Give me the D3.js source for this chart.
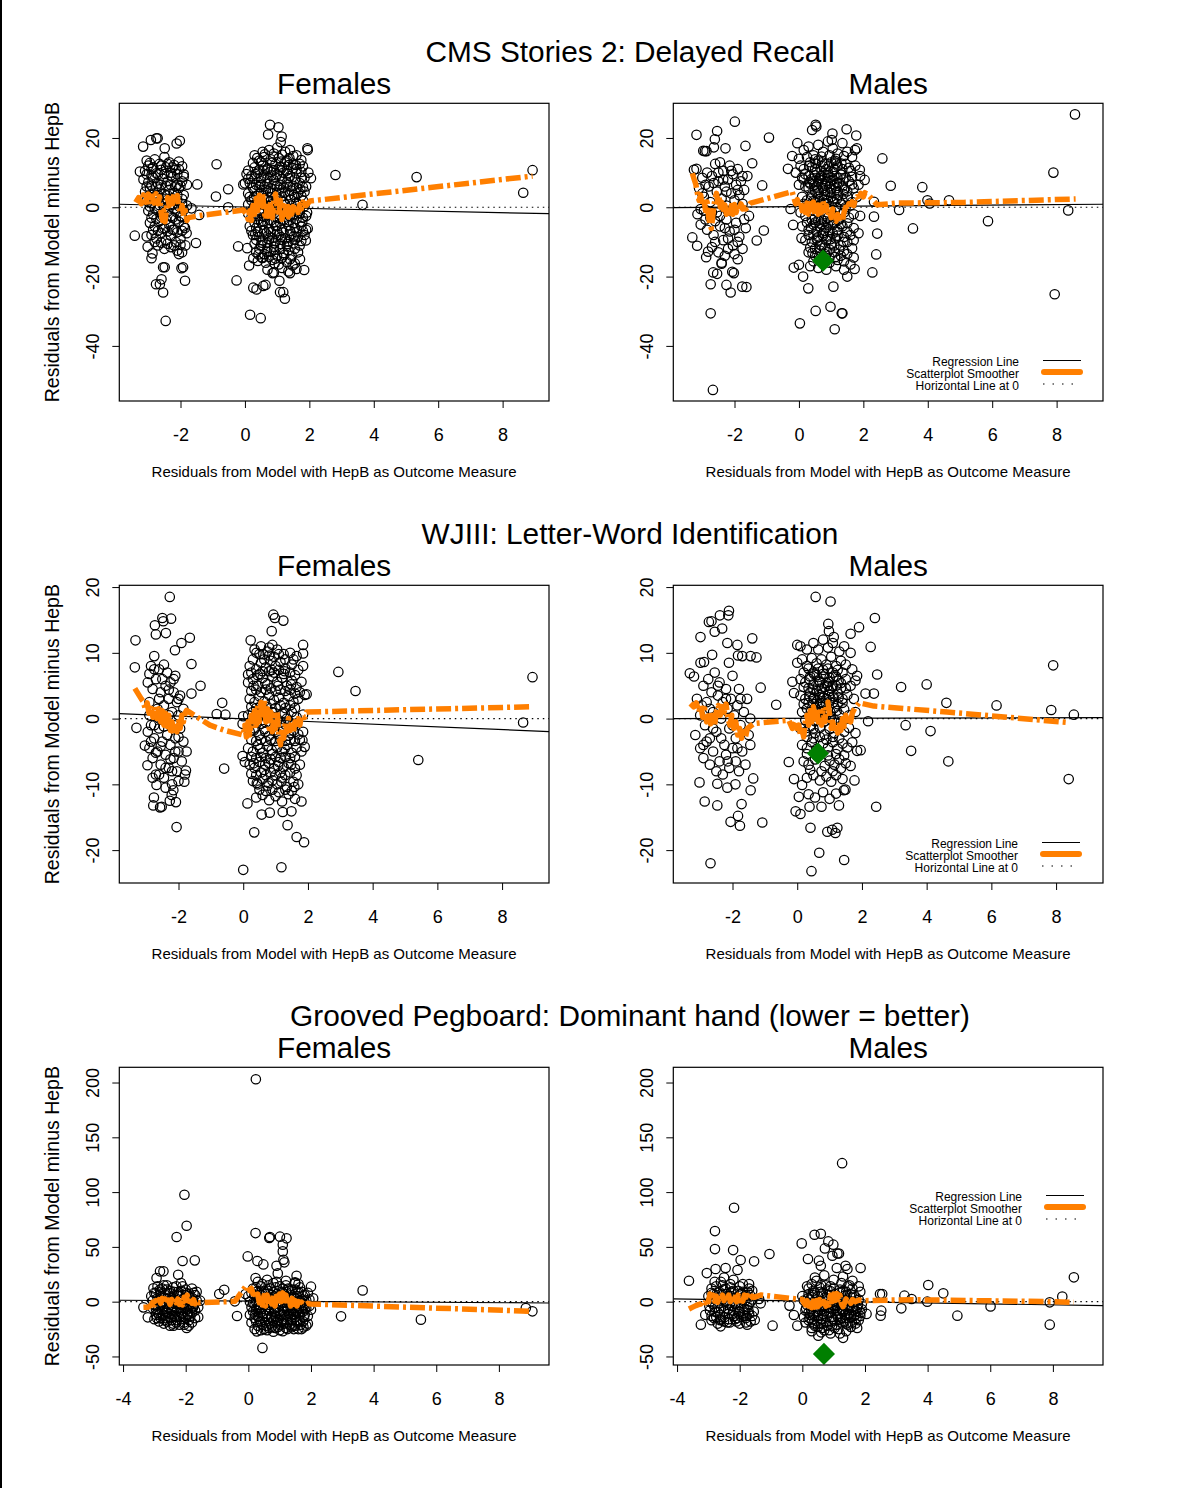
<!DOCTYPE html>
<html>
<head>
<meta charset="utf-8">
<script src="https://cdn.jsdelivr.net/npm/d3@7"></script>
<style>
body { margin: 0; background: #fff; }
svg { display: block; font-family: "Liberation Sans", Arial, sans-serif; }
</style>
</head>
<body>
<svg width="1178" height="1488"></svg>
<script>
// ---- titles / labels ----
var rowTitles = ["CMS Stories 2: Delayed Recall", "WJIII: Letter-Word Identification", "Grooved Pegboard: Dominant hand (lower = better)"];
var colTitles = ["Females", "Males"];
var xLabel = "Residuals from Model with HepB as Outcome Measure";
var yLabel = "Residuals from Model minus HepB";
var legendLabels = ["Regression Line", "Scatterplot Smoother", "Horizontal Line at 0"];

// ---- axis ranges and ticks per row ----
var xDomains = [[-3.9, 9.44], [-3.83, 9.45], [-4.12, 9.6]];
var yDomains = [[-55.9, 30], [-25, 20.27], [-57.8, 213.9]];
var xTicks = [[-2, 0, 2, 4, 6, 8], [-2, 0, 2, 4, 6, 8], [-4, -2, 0, 2, 4, 6, 8]];
var yTicks = [[-40, -20, 0, 20], [-20, -10, 0, 10, 20], [-50, 0, 50, 100, 150, 200]];

// ---- regression lines (intercept, slope), panel order: cmsF, cmsM, wjF, wjM, pegF, pegM ----
var regIntercepts = [0.07, 0.18, -0.03, 0.04, 0.55, 0.67];
var regSlopes = [-0.204, 0.073, -0.206, 0.011, -0.182, -0.445];

// ---- highlighted case (males only) ----
var maleMarkers = [[0.75, -15.4], [0.64, -5.3], [0.69, -47.7]];

// ---- CMS Stories 2 ----
var cmsFemales = [
  [-3.42,-8.2],[-3.26,10.3],[-3.16,17.5],[-2.92,19.4],[-2.75,19.9],[-2.71,19.9],[-2.49,17],[-2.12,18.4],[-2.02,19.2],[-1.48,6.6],
  [-1.52,-10.3],[-3.02,-11.4],[-2.87,-13.3],[-2.9,-14.7],[-2.54,-17.3],[-2.49,-17.3],[-2.76,-22.2],[-2.59,-20.8],[-2.64,-22.2],[-2.54,-24.6],
  [-2.46,-32.8],[-1.97,-17.6],[-1.92,-17.3],[-1.86,-21.2],[-2.05,-13.5],[-1.81,-7.5],[-1.86,-6],[-1.42,-2.2],[-1.66,-0.3],[-3.05,-8.4],
  [-0.88,12.4],[-0.9,3.1],[-0.52,5.2],[-0.52,0],[-0.21,-11.3],[-0.26,-21.1],[0.05,9.6],[0,6.9],[-0.05,6.6],[0.16,-31],[0.49,-32],
  [0.26,-23.2],[0.36,-23.7],[0.57,-22.7],[0.64,-22.4],[0.78,23.8],[1.04,23.1],[0.72,21],[1.14,20.4],[1.11,18.8],[1.94,17],[1.95,16.5],
  [2.05,8.4],[1.97,10],[1.84,-18.1],[1.09,-24.5],[1.19,-24.5],[1.24,-26.4],[1.07,-21.2],[0.86,-19],[1.4,-19],[1.71,-15],[1.95,-6.1],
  [1.93,-1.5],[1.89,-9.6],[2.81,9.3],[3.65,0.7],[5.33,8.7],[8.64,4.2],[8.93,10.7],[0.07,-11.8],[0.13,-16.8],[0.26,-14.7],[0.52,-14.5],
  [-3.05,13.5],[-2.95,12.8],[-2.8,13.8],[-2.65,12.5],[-2.5,14.5],[-2.35,13],[-2.2,12.2],[-2.05,13.2],[-1.95,11.8],
  [-3.1,10.5],[-2.9,11],[-2.75,9.8],[-2.6,10.8],[-2.45,11.5],[-2.3,10],[-2.15,10.8],[-1.9,9.5],[-1.8,6.5],
  [-3.15,8],[-3.0,7.2],[-2.85,8.5],[-2.7,6.8],[-2.55,8.2],[-2.4,7.5],[-2.25,8.8],[-2.1,6.5],[-1.95,7.5],
  [-3.1,4.5],[-2.95,5.5],[-2.8,4],[-2.65,5.2],[-2.5,3.8],[-2.35,5],[-2.2,4.2],[-2.05,5.5],[-1.9,3.5],
  [-3.05,2],[-2.9,1.2],[-2.7,2.5],[-2.55,1],[-2.4,2.2],[-2.25,0.8],[-2.1,2],[-1.95,1],[-1.8,0.5],
  [-3.0,-1],[-2.85,-2],[-2.7,-0.5],[-2.55,-2.5],[-2.4,-1.2],[-2.25,-3],[-2.1,-1.5],[-1.95,-2.8],
  [-2.95,-4.5],[-2.8,-5.5],[-2.65,-4],[-2.5,-6],[-2.35,-5],[-2.2,-6.5],[-2.05,-4.2],[-1.9,-5.5],
  [-2.9,-8],[-2.75,-9],[-2.6,-7.5],[-2.45,-9.5],[-2.3,-8.2],[-2.15,-10],[-2.0,-9],[-1.85,-11],
  [-2.7,-11],[-2.5,-12],[-2.3,-11.5],[-2.1,-12.5],[-1.95,-13],
  [-3.0,12],[-2.85,11.5],[-2.6,12],[-2.4,12.5],[-2.25,11.5],[-2.05,11],
  [-3.05,9.5],[-2.9,9.2],[-2.7,9.5],[-2.5,9.6],[-2.3,9.2],[-2.1,9.5],[-1.9,8.8],
  [-3.05,6],[-2.9,6.2],[-2.75,5.8],[-2.6,6.5],[-2.45,6.2],[-2.3,6.4],[-2.15,6],[-2.0,6.2],
  [-3.0,3.2],[-2.85,2.8],[-2.7,3.5],[-2.55,2.5],[-2.4,3.4],[-2.25,2.6],[-2.1,3.5],[-1.95,2.4],
  [-2.95,0.2],[-2.8,-0.3],[-2.65,0.6],[-2.5,-0.2],[-2.35,0.5],[-2.2,-0.4],[-2.05,0.3],[-1.9,-0.8],
  [-2.9,-3],[-2.75,-3.4],[-2.6,-2.8],[-2.45,-3.6],[-2.3,-2.6],[-2.15,-3.5],[-2.0,-2.6],
  [-2.85,-6.5],[-2.7,-6.8],[-2.55,-6.2],[-2.4,-7],[-2.25,-6.5],[-2.1,-7.2],[-1.95,-6.8],
  [-2.8,-10],[-2.6,-10.2],[-2.4,-10.5],[-2.2,-11],[-2.0,-10.8],
  [0.75,16.5],[1.0,17.2],[1.25,16],[0.9,15.5],
  [0.45,13.5],[0.6,14.5],[0.8,13.8],[1.05,14.2],[1.3,13.5],[1.5,14.8],[1.7,12.5],
  [0.3,11.5],[0.55,12],[0.7,11.2],[0.95,12.5],[1.15,11.5],[1.35,12.2],[1.6,11],[1.8,11.8],
  [0.2,9],[0.4,10],[0.6,9.2],[0.8,10.2],[1.0,9.5],[1.2,10],[1.4,9],[1.6,9.8],[1.85,8.5],
  [0.15,7],[0.35,6.5],[0.5,7.5],[0.7,6.8],[0.9,7.8],[1.1,6.5],[1.3,7.2],[1.5,6.2],[1.7,7],[1.9,6],
  [0.1,4],[0.3,4.8],[0.5,4.2],[0.65,5],[0.85,4],[1.05,5],[1.25,4.3],[1.45,4.8],[1.65,4],[1.85,4.5],
  [0.2,2],[0.4,1.5],[0.6,2.5],[0.8,1.8],[1.0,2.4],[1.2,1.5],[1.4,2.2],[1.6,1.2],[1.8,2],
  [0.25,-0.5],[0.45,-1],[0.7,0],[0.9,-0.8],[1.1,-0.2],[1.3,-1.2],[1.5,-0.4],[1.7,-1],
  [0.2,-3],[0.4,-3.5],[0.6,-2.8],[0.8,-3.8],[1.0,-3],[1.2,-3.6],[1.4,-2.6],[1.6,-3.4],[1.8,-3],
  [0.15,-5.5],[0.35,-6],[0.55,-5],[0.75,-6.2],[0.95,-5.4],[1.15,-6.5],[1.35,-5.2],[1.55,-6],[1.75,-5.5],[1.9,-6.5],
  [0.25,-8],[0.45,-8.5],[0.65,-7.6],[0.85,-8.8],[1.05,-8],[1.25,-9],[1.45,-7.8],[1.65,-8.6],[1.85,-8],
  [0.3,-10.5],[0.5,-11],[0.7,-10.2],[0.9,-11.4],[1.1,-10.6],[1.3,-11.2],[1.5,-10.4],[1.7,-11],
  [0.35,-13],[0.6,-13.5],[0.8,-12.8],[1.0,-14],[1.2,-13.2],[1.45,-14],[1.65,-13],
  [0.4,-15.5],[0.65,-16],[0.85,-15.2],[1.05,-16.5],[1.3,-15.8],[1.55,-16.2],
  [0.7,-18],[0.9,-18.8],[1.15,-17.5],[1.35,-18.5],[1.6,-17.8],
  [0.3,15],[0.55,16],[1.15,15.2],[1.4,16.5],[1.6,15],
  [0.25,12.8],[0.5,13],[0.85,12.9],[1.25,13],[1.5,12.6],[1.75,13.6],
  [0.1,10.6],[0.45,10.8],[0.7,10.9],[0.9,10.7],[1.1,10.8],[1.3,10.6],[1.5,11.3],[1.75,10.2],
  [0.1,8.2],[0.3,8.3],[0.5,8.6],[0.7,8.4],[0.95,8.6],[1.15,8.2],[1.35,8.4],[1.55,8],[1.75,8.6],
  [0.25,5.6],[0.45,5.8],[0.6,6],[0.8,5.5],[1.0,6.2],[1.2,5.7],[1.4,6],[1.6,5.6],[1.8,5.8],
  [0.15,3],[0.35,3.3],[0.55,3.2],[0.75,3],[0.95,3.4],[1.15,3.1],[1.35,3.5],[1.55,2.9],[1.75,3.3],
  [0.1,0.8],[0.3,0.5],[0.5,0.8],[0.65,0.4],[0.85,0.9],[1.05,0.6],[1.25,0.8],[1.45,0.5],[1.65,0.9],[1.85,0.3],
  [0.1,-1.8],[0.3,-2],[0.5,-1.7],[0.7,-2.1],[0.9,-1.8],[1.1,-2.2],[1.3,-1.9],[1.5,-2.1],[1.7,-1.8],[1.9,-2.5],
  [0.3,-4.4],[0.5,-4.2],[0.7,-4.6],[0.9,-4.3],[1.1,-4.7],[1.3,-4.2],[1.5,-4.6],[1.7,-4.3],
  [0.2,-6.8],[0.4,-7.1],[0.6,-6.7],[0.8,-7.2],[1.0,-6.9],[1.2,-7.3],[1.4,-6.8],[1.6,-7.2],[1.8,-6.9],
  [0.35,-9.4],[0.55,-9.6],[0.75,-9.3],[0.95,-9.8],[1.15,-9.4],[1.35,-9.9],[1.55,-9.3],[1.75,-9.7],
  [0.45,-12],[0.7,-11.8],[0.9,-12.3],[1.1,-12],[1.35,-12.4],[1.55,-12],
  [0.55,-14.6],[0.75,-14.3],[0.95,-14.8],[1.15,-14.6],[1.4,-15],
  [0.38,14.2],[0.62,15.3],[0.88,14.6],[1.12,13.2],[1.38,14.2],
  [0.33,9.6],[0.58,10.6],[0.82,9.2],[1.08,11.6],[1.32,9.8],[1.58,12.2],
  [0.28,2.8],[0.48,6.4],[0.72,4.6],[0.92,6.6],[1.12,4.2],[1.32,6.6],[1.52,3.6],[1.72,5.2],
  [0.38,-2.6],[0.58,-4],[0.78,-0.6],[0.98,-5.2],[1.18,-1.2],[1.38,-3.8],[1.58,-1.2],[1.78,-4.2],
  [0.32,-7.8],[0.52,-10.2],[0.72,-8.2],[0.92,-10.4],[1.12,-8.6],[1.32,-10.6],[1.52,-8.4],
  [0.42,-13.6],[0.68,-12.8],[0.92,-16.2],[1.22,-13.8],[1.48,-16.8]
];
var cmsFemalesSmooth = [[-3.39,1.4],[-3.3,2.8],[-3.22,1.0],[-3.15,3.6],[-3.08,1.5],[-3.0,3.8],[-2.94,0.8],[-2.88,3.2],[-2.82,1.2],
  [-2.76,3.9],[-2.7,1.0],[-2.65,3.0],[-2.6,-1.5],[-2.56,-3.8],[-2.52,-1.0],[-2.48,-4.2],[-2.44,-0.5],[-2.4,2.8],[-2.35,0.5],
  [-2.3,3.5],[-2.25,1.0],[-2.2,3.8],[-2.15,1.2],[-2.1,3.4],[-2.05,0.0],[-2.0,-1.5],[-1.95,0.5],[-1.9,-2.5],[-1.85,-1.0],
  [-1.8,-3.8],[-1.75,-3.0],[-1.4,-2.4],[-0.05,-0.8],[0.05,-2.0],[0.1,-3.5],[0.15,-1.0],[0.2,-3.8],[0.25,0.5],[0.3,-2.0],
  [0.35,2.5],[0.4,-1.0],[0.45,3.5],[0.5,0.5],[0.55,3.8],[0.6,-1.5],[0.65,-3.5],[0.7,1.0],[0.75,-2.5],[0.8,1.5],[0.85,-3.0],
  [0.9,2.5],[0.95,3.8],[1.0,0.0],[1.05,-2.5],[1.1,2.0],[1.15,-3.5],[1.2,0.5],[1.25,-2.0],[1.3,1.5],[1.35,-2.8],[1.4,0.8],
  [1.45,-2.0],[1.5,0.2],[1.55,-1.8],[1.6,0.5],[1.65,-1.5],[1.7,0.8],[1.75,-0.5],[1.8,1.5],[1.9,0.5],[2.02,1.8],[8.93,9.0]];

var cmsMales = [
  [-3.18,20.9],[-2.54,22],[-2.61,19.6],[-2.64,17.3],[-2.28,17],[-1.99,24.7],[-1.66,17.7],[-0.93,20.1],[-2.97,16.3],[-2.92,16.2],
  [-2.87,16.2],[-3.26,10.8],[-3.18,11.1],[-1.45,12.7],[-1.14,6.3],[-1.09,-6.7],[-1.31,-9.6],[-3.31,-8.7],[-3.16,-11.1],[-2.74,-30.6],
  [-2.67,-52.7],[-2.74,-22.2],[-2.66,-18.8],[-2.54,-19.2],[-2.25,-22.4],[-2.12,-24.6],[-1.76,-22.9],[-1.63,-23],[-2.07,-18.6],[-2.02,-19],
  [-2.88,-14.4],[-2.82,-12.8],[-2.4,-16.3],[2.59,14.1],[2.85,6.2],[3.83,5.8],[3.99,2.0],[4.06,1.1],[4.66,2.0],[3.11,-0.8],[3.54,-6.1],
  [5.87,-4.0],[7.9,10.0],[8.36,-0.9],[7.94,-25.1],[8.57,26.8],[2.33,-2.7],[2.43,-7.6],[2.4,-13.6],[2.28,-18.8],[2.33,1.6],
  [0.03,-33.5],[0.52,-29.9],[0.98,-28.7],[1.11,-35.2],[1.33,-30.6],[1.35,-30.6],[0.29,-23.4],[0.13,-20],[0,-16.6],[-0.16,-17.4],
  [1.07,-22.9],[1.5,-20],[1.73,-17.8],[1.65,-11.8],[0.52,23.8],[0.54,23.3],[0.41,22.3],[1.04,21.3],[1.02,19.4],[1.48,22.5],[1.78,20.7],
  [-0.05,18.5],[-0.21,14.8],[-0.34,11.1],[1.74,16.5],[2.04,7.9],[1.89,10.8],[-0.26,-0.5],[-0.18,-5.1],[0.08,-8.9],
  [-3.1,5.5],[-3.0,8.5],[-2.95,3],[-2.85,10],[-2.8,6],[-2.75,1.5],[-2.7,9],[-2.6,12.5],[-2.55,4.5],[-2.5,7.5],[-2.45,13],[-2.4,2.5],
  [-2.35,10.5],[-2.3,6],[-2.25,0.5],[-2.2,8],[-2.15,12],[-2.1,4],[-2.05,9.5],[-2.0,2],[-1.95,6.5],[-1.9,11],[-1.85,3.5],[-1.8,7.5],
  [-1.75,1],[-1.7,5],[-1.6,9],
  [-3.15,-2],[-3.05,-5],[-2.95,-1],[-2.85,-6.5],[-2.75,-3],[-2.65,-8],[-2.55,-1.5],[-2.45,-5.5],[-2.35,-9.5],[-2.25,-3.5],[-2.15,-7],
  [-2.05,-11],[-1.95,-4.5],[-1.85,-8.5],[-1.75,-12],[-1.65,-6],[-1.55,-2.5],[-2.7,-11.5],[-2.5,-13],[-2.3,-14],[-2.0,-13.5],[-1.9,-15],
  [-2.4,-16],[-2.2,-12],
  [-3.0,4],[-2.9,6.5],[-2.65,7],[-2.5,10],[-2.35,8],[-2.25,4.5],[-2.1,10.5],[-1.9,5],[-1.75,9],
  [-3.05,-0.5],[-2.9,-3.5],[-2.7,-1.5],[-2.6,-4],[-2.45,-2.5],[-2.3,-6],[-2.2,-1],[-2.0,-6.5],[-1.9,-10],[-1.7,-3.5],[-2.6,-10],[-2.2,-9],
  [0.0,14],[0.15,16.5],[0.3,17.5],[0.45,15],[0.6,18],[0.75,16],[0.9,19],[1.05,17],[1.2,15.5],[1.35,18.5],[1.5,16],[1.65,14.5],[1.8,17],
  [-0.1,10],[0.05,12],[0.2,9.5],[0.35,13],[0.5,11],[0.6,13.5],[0.7,10.5],[0.8,12.5],[0.9,10],[1.0,13],[1.1,11],[1.2,12],[1.3,9.5],
  [1.45,12.5],[1.6,10.5],[1.75,12],[1.9,9],
  [0.0,6.5],[0.15,8],[0.3,5.5],[0.45,7.5],[0.55,6],[0.65,8.5],[0.75,5.5],[0.85,7.5],[0.95,6],[1.05,8],[1.15,5.5],[1.25,7],[1.4,5],
  [1.55,7.5],[1.7,5.5],[1.85,6.5],
  [0.1,3],[0.25,2],[0.4,3.5],[0.5,1.5],[0.6,3],[0.7,1],[0.8,3.5],[0.9,2],[1.0,3],[1.1,1.5],[1.2,3.5],[1.35,2],[1.5,3],[1.65,1.5],[1.8,3],
  [0.05,-1.5],[0.2,-2.5],[0.35,-1],[0.5,-3],[0.6,-1.5],[0.7,-3.5],[0.8,-2],[0.9,-3],[1.0,-1],[1.1,-2.5],[1.25,-3.5],[1.4,-1.5],
  [1.55,-3],[1.7,-2],[1.9,-2.5],
  [0.1,-5.5],[0.3,-6.5],[0.45,-5],[0.55,-7],[0.65,-5.5],[0.75,-7.5],[0.85,-6],[0.95,-7],[1.05,-5],[1.2,-6.5],[1.35,-5.5],[1.5,-7],
  [1.7,-6],[1.85,-7.5],
  [0.2,-9.5],[0.4,-10],[0.55,-9],[0.7,-11],[0.85,-9.5],[1.0,-10.5],[1.15,-9],[1.3,-11],[1.5,-10],[1.7,-9.5],
  [0.3,-13],[0.5,-14],[0.65,-12.5],[0.8,-13.5],[0.95,-14.5],[1.1,-13],[1.3,-14],[1.5,-13.5],[1.7,-14.5],
  [0.35,-17],[0.6,-17.5],[0.85,-18],[1.15,-17],[1.4,-18],[1.6,-16.5],
  [0.25,14.5],[0.5,13.8],[0.7,14.6],[0.95,15],[1.15,14],[1.4,14.8],
  [0.15,11],[0.4,11.6],[0.55,10.2],[0.75,11.8],[0.85,11],[1.05,10.2],[1.15,12.6],[1.35,11],[1.55,11.4],
  [0.1,8.6],[0.3,9],[0.4,8.2],[0.5,9.2],[0.6,7.2],[0.7,9],[0.8,8.2],[0.9,9.2],[1.0,7.5],[1.1,9],[1.2,8.4],[1.3,9.4],[1.45,8.6],[1.65,8.8],
  [0.2,6],[0.35,6.8],[0.5,4.6],[0.6,5],[0.7,6.8],[0.8,4.8],[0.9,4.4],[1.0,5.2],[1.1,6.6],[1.2,4.6],[1.35,6],[1.5,4.6],[1.65,6.6],
  [0.15,1],[0.3,0.4],[0.45,1.8],[0.55,0],[0.65,1.8],[0.75,0],[0.85,1.2],[0.95,0.2],[1.05,1.8],[1.15,0],[1.3,0.8],[1.45,0],[1.6,0.6],
  [0.25,-4.4],[0.4,-3.6],[0.5,-4.4],[0.6,-3.8],[0.7,-5],[0.8,-4],[0.9,-5],[1.0,-3.8],[1.1,-4.4],[1.2,-3.6],[1.3,-4.8],[1.5,-4.6],
  [0.3,-8],[0.45,-7.8],[0.6,-8.6],[0.75,-8.2],[0.9,-8.4],[1.05,-7.6],[1.2,-8.2],[1.4,-8.6],[1.6,-8],
  [0.35,-11.6],[0.5,-12],[0.65,-10.8],[0.8,-11.6],[0.95,-12.2],[1.1,-11],[1.25,-12.2],[1.4,-12.6],
  [0.45,-15.6],[0.7,-15],[0.95,-16],[1.2,-15.2],[1.4,-15.6],
  [0.32,12],[0.52,12.6],[0.72,13],[0.92,11.8],[1.12,13.4],[1.32,12.6],
  [0.32,7.2],[0.48,6.4],[0.62,8],[0.82,6.2],[0.98,8.6],[1.18,7],[1.38,8],
  [0.38,2.6],[0.58,4],[0.78,2.2],[0.98,4.2],[1.18,2.4],[1.38,3.8],
  [0.38,-6],[0.58,-9.6],[0.78,-6.8],[0.98,-9.2],[1.18,-7],[1.38,-10],
  [0.42,-13.2],[0.62,-14.4],[0.88,-13],[1.12,-14.4]
];
var cmsMalesSmooth = [[-3.31,9.8],[-3.25,8.0],[-3.2,6.6],[-3.15,4.0],[-3.1,2.0],[-3.05,3.5],[-3.0,0.5],[-2.95,2.5],[-2.9,-1.0],
  [-2.85,1.5],[-2.8,-3.0],[-2.76,-5.0],[-2.72,-6.1],[-2.68,-3.0],[-2.64,0.5],[-2.6,2.5],[-2.56,4.0],[-2.52,1.5],[-2.48,3.0],
  [-2.44,0.0],[-2.4,1.5],[-2.35,-1.5],[-2.3,0.7],[-2.25,-2.0],[-2.2,-0.5],[-2.15,-3.0],[-2.1,0.5],[-2.05,-2.0],[-2.0,0.8],
  [-1.95,-1.5],[-1.9,0.5],[-1.85,-1.0],[-1.8,1.0],[-1.75,-0.5],[-1.7,0.8],[-1.65,-0.5],[-1.5,1.2],[-0.21,4.5],[-0.15,2.5],
  [-0.1,1.0],[-0.05,2.2],[0.0,0.0],[0.05,1.8],[0.1,-1.0],[0.15,1.5],[0.2,-1.5],[0.25,1.2],[0.3,-2.0],[0.35,1.0],[0.4,-2.0],
  [0.45,1.5],[0.5,-2.5],[0.55,0.5],[0.6,-2.0],[0.65,1.5],[0.7,-1.5],[0.75,1.8],[0.8,-1.0],[0.85,0.5],[0.9,-2.5],[0.95,-1.0],
  [1.0,-3.0],[1.05,-0.5],[1.1,-3.5],[1.15,-4.0],[1.2,-2.0],[1.25,-4.2],[1.3,-3.0],[1.35,-4.0],[1.4,-1.5],[1.45,0.0],[1.5,-0.8],
  [1.55,1.0],[1.6,0.0],[1.65,1.6],[1.7,0.5],[1.75,2.5],[1.8,3.0],[1.85,2.0],[1.92,4.0],[2.0,3.0],[2.05,4.2],[2.15,3.6],
  [2.43,0.7],[3.05,1.2],[5.12,1.4],[8.59,2.4]];

// ---- WJIII Letter-Word ----
var wjFemales = [
  [-2.27,18.5],[-3.33,11.9],[-3.35,7.8],[-3.3,-1.4],[-2.73,14.2],[-2.5,15.3],[-2.23,15.2],[-2.47,14.8],[-2.7,12.8],[-2.39,13.0],
  [-1.91,11.5],[-1.65,12.3],[-1.6,8.3],[-2.11,10.4],[-1.32,5.0],[-1.6,3.8],[-1.77,-7.9],[-1.82,-9.6],[-2.06,-16.5],[-2.78,-13.2],
  [-2.57,-13.5],[-2.52,-13.4],[-2.76,-12],[-2.68,-10.1],[-2.21,-11.6],[-2.16,-10.9],[-2.08,-12.7],[-2.27,-12.5],[-2.96,-7.1],[-3.04,-4.1],
  [-0.65,2.4],[-0.82,0.7],[-0.55,0.6],[-0.59,-7.6],[0.23,11.9],[0.88,13.3],[0.93,15.8],[0.98,15.3],[1.24,14.9],[1.85,11.2],[1.85,9.9],
  [1.96,3.7],[1.9,3.6],[0.13,-12.9],[0.34,-17.3],[0,-23],[0.57,-14.6],[0.82,-14.3],[1.18,-22.6],[1.37,-16.2],[1.65,-18],[1.88,-18.8],
  [1.49,-14.1],[1.8,-12.6],[1.22,-14.2],[2.94,7.1],[3.47,4.2],[5.41,-6.3],[8.65,-0.6],[8.94,6.3],[0,0.35],[-0.02,-0.8],[-0.02,-5.7],
  [0.05,-6.6],[1.85,-2],[1.9,-4.3],[1.83,-3.3],[0.15,6.7],[0.41,10],[0.62,9.8],[0.8,10.8],
  [-2.95,5.5],[-2.9,2.5],[-2.85,8],[-2.8,4.5],[-2.75,9.5],[-2.7,6],[-2.65,1.5],[-2.6,7.5],[-2.55,4],[-2.5,6],[-2.45,2],[-2.4,5],
  [-2.35,7],[-2.3,3],[-2.25,5.5],[-2.2,1],[-2.15,4],[-2.1,6.5],[-2.05,2.5],[-2.0,0.5],[-1.95,3.5],[-1.85,1.5],
  [-2.95,-2],[-2.9,-4.5],[-2.85,-1],[-2.8,-6],[-2.75,-3],[-2.7,-8.5],[-2.65,-5],[-2.6,-1.5],[-2.55,-7],[-2.5,-3.5],[-2.45,-9],
  [-2.4,-5.5],[-2.35,-2.5],[-2.3,-7.5],[-2.25,-4],[-2.2,-10],[-2.15,-6],[-2.1,-3],[-2.05,-8],[-2.0,-5],[-1.95,-1.5],[-1.9,-6.5],
  [-1.85,-3.5],[-1.8,-8.5],[-1.75,-5],
  [-2.9,6.8],[-2.75,7.5],[-2.6,3],[-2.45,8.2],[-2.3,4.4],[-2.15,6],[-2.0,3],
  [-2.9,0.5],[-2.75,-1],[-2.6,0],[-2.45,-1.2],[-2.3,0.5],[-2.15,-1],[-2.0,-2.8],
  [-2.85,-3.5],[-2.7,-5.2],[-2.55,-4.2],[-2.4,-7.5],[-2.25,-6.2],[-2.1,-5],
  [-2.8,-9],[-2.6,-8.5],[-2.4,-10.5],[-2.2,-8],[-2.0,-9.5],
  [0.35,10.5],[0.55,11],[0.75,10.2],[0.9,11.2],[1.05,10.5],[1.25,9.8],[1.45,10],[1.65,9.5],
  [0.2,8],[0.4,7.5],[0.55,8.5],[0.7,7.8],[0.85,8.8],[1.0,8],[1.15,8.6],[1.3,7.6],[1.5,8.2],[1.7,7.4],[1.85,8],
  [0.15,5.5],[0.3,6],[0.45,5],[0.6,6.2],[0.75,5.2],[0.9,6.4],[1.05,5.6],[1.2,6.2],[1.35,5],[1.5,5.8],[1.65,4.8],[1.8,5.6],
  [0.2,3],[0.35,2.5],[0.5,3.4],[0.65,2.6],[0.8,3.6],[0.95,2.8],[1.1,3.2],[1.25,2.4],[1.4,3.4],[1.55,2.6],[1.7,3],
  [0.15,0.5],[0.3,1],[0.45,0],[0.6,1.2],[0.75,0.2],[0.9,1],[1.05,-0.2],[1.2,0.8],[1.35,0],[1.5,1],[1.65,0.2],[1.85,0.6],
  [0.2,-2],[0.35,-1.5],[0.5,-2.5],[0.65,-1.6],[0.8,-2.6],[0.95,-1.8],[1.1,-2.4],[1.25,-1.4],[1.4,-2.6],[1.55,-1.8],[1.7,-2.4],
  [0.15,-4.5],[0.3,-5],[0.45,-4],[0.6,-5.2],[0.75,-4.2],[0.9,-5.4],[1.05,-4.4],[1.2,-5],[1.35,-4],[1.5,-5.2],[1.65,-4.4],[1.8,-5],
  [0.2,-7],[0.35,-7.5],[0.5,-6.6],[0.65,-7.8],[0.8,-6.8],[0.95,-7.6],[1.1,-6.6],[1.25,-7.4],[1.4,-6.8],[1.6,-7.6],[1.75,-7],
  [0.3,-9.5],[0.45,-10],[0.6,-9.2],[0.75,-10.2],[0.9,-9.4],[1.05,-10],[1.2,-9],[1.35,-10.4],[1.55,-9.6],[1.7,-10],
  [0.4,-12],[0.6,-11.6],[0.8,-12.4],[1.0,-11.8],[1.2,-12.6],[1.4,-11.5],[1.6,-12.2],
  [0.3,9],[0.5,9.8],[0.65,9],[0.8,9.6],[0.95,9.4],[1.1,9.8],[1.3,9],[1.55,9],
  [0.25,7],[0.45,6.6],[0.6,7.2],[0.8,7.2],[0.95,7],[1.1,7.4],[1.25,6.8],[1.45,7],[1.6,6.6],
  [0.25,4.2],[0.4,4.4],[0.55,4],[0.7,4.4],[0.85,4.6],[1.0,4.2],[1.15,4.4],[1.3,4.2],[1.45,4.4],[1.6,3.8],[1.75,4],
  [0.25,1.8],[0.4,1.6],[0.55,2],[0.7,1.8],[0.85,2.2],[1.0,1.6],[1.15,2],[1.3,1.6],[1.45,2],[1.6,1.6],
  [0.25,-0.8],[0.4,-0.6],[0.55,-0.8],[0.7,-0.6],[0.85,-0.9],[1.0,-0.8],[1.15,-0.6],[1.3,-0.9],[1.45,-0.6],[1.6,-0.8],
  [0.25,-3.2],[0.4,-3.4],[0.55,-3.2],[0.7,-3.4],[0.85,-3.2],[1.0,-3.4],[1.15,-3.2],[1.3,-3.4],[1.45,-3.2],[1.6,-3.4],[1.75,-3.2],
  [0.25,-5.8],[0.4,-6],[0.55,-5.8],[0.7,-6],[0.85,-6.2],[1.0,-5.8],[1.15,-6],[1.3,-5.8],[1.45,-6],[1.6,-5.8],
  [0.25,-8.4],[0.4,-8.6],[0.55,-8.2],[0.7,-8.6],[0.85,-8.2],[1.0,-8.6],[1.15,-8.2],[1.3,-8.6],[1.45,-8.2],[1.65,-8.6],
  [0.5,-10.8],[0.7,-11],[0.9,-10.8],[1.1,-11.2],[1.3,-10.8],[1.5,-11],
  [0.32,5],[0.52,6.8],[0.68,5.4],[0.88,7.4],[1.08,5],[1.28,7.2],[1.48,5.2],
  [0.32,-1.8],[0.52,0.8],[0.68,-2],[0.88,1],[1.08,-2.4],[1.28,0.8],[1.48,-2.2],
  [0.32,-6.8],[0.52,-4.6],[0.68,-7],[0.88,-4.8],[1.08,-7.2],[1.28,-4.6],[1.48,-7],
  [0.42,-9.8],[0.78,-9.8],[1.18,-9.6],[1.58,-10.4]
];
var wjFemalesSmooth = [[-3.35,4.6],[-3.25,3.8],[-3.15,3.0],[-3.09,2.6],[-3.03,1.5],[-2.97,2.4],[-2.91,0.8],[-2.85,2.0],[-2.79,0.2],
  [-2.73,1.8],[-2.67,0.0],[-2.61,1.5],[-2.55,-0.5],[-2.5,1.2],[-2.45,-1.0],[-2.4,0.8],[-2.35,-1.2],[-2.3,0.5],[-2.25,-1.8],
  [-2.2,-0.5],[-2.15,-2.3],[-2.1,-1.2],[-2.05,-2.0],[-2.0,-0.5],[-1.95,-1.5],[-1.9,0.5],[-1.85,-0.5],[-1.8,0.8],[-1.75,1.25],
  [-1.03,-1.0],[-0.57,-1.8],[0,-2.5],[0.05,-1.0],[0.1,-2.8],[0.15,-0.5],[0.2,-2.5],[0.25,0.5],[0.3,-1.5],[0.35,1.2],[0.4,-1.0],
  [0.45,2.0],[0.5,-0.5],[0.55,2.5],[0.6,0.0],[0.65,3.0],[0.7,-0.5],[0.75,1.5],[0.8,-1.5],[0.85,1.0],[0.9,-2.0],[0.95,0.5],
  [1.0,-1.5],[1.05,1.0],[1.1,-2.5],[1.15,-4.0],[1.2,-1.5],[1.25,-3.0],[1.3,-0.5],[1.35,-2.0],[1.4,0.0],[1.45,-1.8],[1.5,-0.5],
  [1.55,-2.0],[1.6,-0.5],[1.65,-1.5],[1.7,0.0],[1.75,-1.0],[1.8,0.5],[1.9,0.2],[1.96,1.0],[8.94,1.8]];

var wjMales = [
  [0.57,18.5],[1.03,17.8],[2.4,15.3],[1.91,13.9],[2.27,10.9],[2.47,6.7],[1.65,12.9],[0.96,14.4],[0.98,13.3],[1.13,12.4],[0,11.2],
  [-2.11,16.4],[-2.13,15.7],[-2.39,15.7],[-2.73,14.7],[-2.65,14.8],[-2.32,13.7],[-2.55,13.2],[-2.99,12.4],[-2.16,11.5],[-1.85,11.2],
  [-1.39,12.2],[-2.63,9.7],[-2.88,8.6],[-2.99,8.5],[-2.11,8.5],[-1.83,9.6],[-1.7,9.5],[-1.44,9.5],[-1.26,9.3],[-3.32,6.9],[-3.19,6.4],
  [-1.13,4.7],[3.21,4.8],[4.0,5.2],[4.61,2.4],[6.16,2.0],[7.91,8.1],[7.85,1.3],[8.55,0.6],[3.35,-1.0],[4.12,-1.9],[3.52,-4.9],
  [4.67,-6.5],[8.39,-9.2],[2.19,-0.4],[1.96,-4.8],[1.85,-4.9],[2.44,-13.4],[-2.68,-22],[0.44,-23.2],[0.68,-20.4],[1.45,-21.5],
  [0.41,-16.6],[0.93,-17.2],[1.08,-16.9],[1.18,-17.4],[1.24,-16.6],[0.38,-13.4],[0.75,-13.4],[1.29,-13.2],[-0.05,-14.1],[0.1,-14.5],
  [-1.08,-15.8],[-2.06,-15.7],[-1.77,-16.3],[-1.83,-14.8],[-2.86,-12.6],[-2.47,-13.2],[-1.72,-13],[-1.44,-10.9],[-3.02,-9.7],
  [-2.47,-9.9],[-2.16,-10.5],[-1.91,-10],[-1.36,-9.1],[-0.26,-6.6],[1.77,-9.4],[1.44,-10.9],[1.49,-10.8],[-0.1,-9.2],[0.05,-11.9],
  [0.15,-10.1],[-0.65,2.1],[2.11,3.8],[2.37,3.8],[-0.15,5.6],[-0.1,3.9],
  [-3.1,3],[-3.0,0.5],[-2.9,5],[-2.85,-1],[-2.8,2.5],[-2.75,6],[-2.7,-3],[-2.65,4],[-2.6,1],[-2.55,7],[-2.5,-2],[-2.45,3.5],
  [-2.4,5.5],[-2.35,0],[-2.3,2.5],[-2.25,-4],[-2.2,4.5],[-2.15,1.5],[-2.1,-1.5],[-2.05,3],[-2.0,6.5],[-1.95,0.5],[-1.9,-3],
  [-1.85,2],[-1.8,4.5],[-1.75,-1],[-1.65,1],[-1.55,3],[-1.5,-2.5],[-1.45,0],
  [-3.15,-2.5],[-3.0,-4.5],[-2.9,-6],[-2.8,-3.5],[-2.7,-7],[-2.6,-5],[-2.5,-8],[-2.4,-6.5],[-2.3,-8.5],[-2.2,-5.5],[-2.1,-7.5],
  [-2.0,-4.5],[-1.9,-6.5],[-1.8,-8],[-1.7,-5],[-1.6,-7],[-1.45,-4],
  [-2.95,2],[-2.7,1.5],[-2.45,5],[-2.2,3],[-2.0,-1],[-1.75,3],[-2.6,-1.5],[-2.35,-3],[-2.9,-4],[-2.15,-6.5],[-1.85,-4.5],
  [0.1,11],[0.3,10.5],[0.5,11.5],[0.65,10.5],[0.8,12],[0.95,10.8],[1.1,11.5],[1.3,10.2],[1.45,11],[1.65,10],
  [0.0,8.5],[0.15,9],[0.3,8],[0.45,9.2],[0.6,8.4],[0.75,9],[0.9,8.2],[1.05,9.4],[1.2,8],[1.35,8.8],[1.5,8.2],[1.7,7.5],[1.85,6.5],
  [0.1,6],[0.25,5.5],[0.4,6.4],[0.5,5.2],[0.6,6.6],[0.7,5.6],[0.8,6.8],[0.9,5.4],[1.0,6.2],[1.1,5],[1.2,6.4],[1.35,5.4],[1.5,6],
  [1.65,5],[1.8,5.8],
  [0.1,3.5],[0.25,3],[0.4,4],[0.5,3],[0.6,4.2],[0.7,3.2],[0.8,4],[0.9,3],[1.0,4.2],[1.1,3.2],[1.25,3.8],[1.4,3],[1.55,3.6],[1.75,3],
  [0.15,1],[0.3,1.5],[0.45,0.6],[0.55,1.6],[0.65,0.8],[0.75,1.8],[0.85,0.6],[0.95,1.4],[1.05,0.4],[1.15,1.6],[1.3,0.6],[1.45,1.4],
  [1.6,0.5],[1.8,1],
  [0.1,-1.5],[0.25,-2],[0.4,-1.2],[0.55,-2.2],[0.7,-1.4],[0.85,-2.4],[1.0,-1.6],[1.15,-2.2],[1.3,-1.2],[1.45,-2],[1.6,-1.4],[1.8,-2.2],
  [0.15,-4],[0.3,-4.5],[0.45,-3.6],[0.6,-4.6],[0.8,-3.8],[0.95,-4.4],[1.1,-3.6],[1.25,-4.6],[1.4,-3.8],[1.55,-4.4],[1.7,-3.6],
  [0.2,-6.5],[0.35,-7],[0.55,-6.2],[0.85,-7.2],[1.0,-6.4],[1.15,-7],[1.3,-6.2],[1.5,-6.8],[1.65,-7.2],
  [0.3,-9],[0.5,-8.6],[0.7,-9.4],[0.9,-8.8],[1.05,-9.6],[1.2,-8.6],[1.4,-9.2],
  [0.35,-11.5],[0.55,-12],[0.8,-11.2],[1.0,-12.2],[1.2,-11.4],
  [0.2,7],[0.35,7.6],[0.5,7],[0.65,7.6],[0.8,7.4],[0.95,7.6],[1.1,7],[1.25,7.4],[1.4,7],
  [0.2,4.8],[0.35,4.6],[0.5,4.4],[0.65,5],[0.75,4.6],[0.85,4.8],[0.95,5],[1.05,4.6],[1.2,5],[1.35,4.6],[1.5,4.6],
  [0.2,2.2],[0.35,2.4],[0.5,2.2],[0.6,2.6],[0.7,2.4],[0.8,2.4],[0.9,2.2],[1.0,2.6],[1.1,2.4],[1.25,2.2],[1.4,2.4],
  [0.25,-0.2],[0.4,0],[0.55,-0.4],[0.7,0],[0.85,-0.4],[1.0,0],[1.15,-0.2],[1.35,-0.4],
  [0.3,-2.8],[0.5,-3],[0.7,-2.8],[0.9,-3.2],[1.1,-2.8],[1.3,-3],
  [0.3,-5.4],[0.6,-5.6],[0.95,-5.6],[1.2,-5.4],[1.45,-5.6],
  [0.4,-7.8],[0.75,-8],[1.1,-8],[1.35,-7.6],
  [0.38,6],[0.52,6.8],[0.68,5.8],[0.82,6.4],[0.98,5.6],[1.12,6.4],[1.28,5.8],
  [0.38,3.4],[0.52,3.2],[0.68,3.6],[0.82,3.2],[0.98,3.6],[1.12,3.4],[1.28,3.2],
  [0.42,1],[0.62,1],[0.82,1.2],[1.02,1],[1.22,1.2],[0.5,-1.5]
];
var wjMalesSmooth = [[-3.3,2.3],[-3.2,1.8],[-3.12,2.4],[-3.04,1.0],[-2.98,2.0],[-2.92,0.2],[-2.86,1.5],[-2.8,-0.5],[-2.74,1.0],
  [-2.68,-0.8],[-2.62,0.5],[-2.56,-1.2],[-2.5,1.0],[-2.44,2.0],[-2.38,0.5],[-2.32,2.5],[-2.26,1.0],[-2.2,2.2],[-2.14,0.0],
  [-2.08,-1.0],[-2.02,0.5],[-1.96,-1.5],[-1.9,-0.5],[-1.84,-2.5],[-1.78,-1.5],[-1.72,-3.0],[-1.66,-2.0],[-1.6,-2.8],[-1.54,-1.5],
  [-1.34,-0.75],[-0.26,-0.25],[-0.15,-1.5],[-0.05,-0.5],[0.0,-2.0],[0.05,-1.0],[0.1,-2.5],[0.15,-1.5],[0.2,-2.8],[0.25,-0.5],
  [0.3,0.5],[0.35,-1.0],[0.4,1.2],[0.45,-0.5],[0.5,1.8],[0.55,0.0],[0.6,1.5],[0.65,-0.5],[0.7,1.0],[0.75,-1.0],[0.8,1.2],
  [0.85,-0.5],[0.9,1.8],[0.95,2.5],[1.0,0.5],[1.05,-1.5],[1.1,-0.5],[1.15,-2.0],[1.2,-1.0],[1.25,-2.2],[1.3,-0.5],[1.35,-1.8],
  [1.4,0.0],[1.45,-1.2],[1.5,0.5],[1.55,-0.8],[1.6,0.2],[1.65,-0.5],[1.7,0.8],[1.78,1.6],[1.85,2.0],[1.91,2.4],[2.37,1.9],
  [4.63,1.0],[8.39,-0.6]];

// ---- Grooved Pegboard ----
var pegFemales = [
  [0.24,203],[-2.04,97.6],[-1.97,69.3],[-2.29,59],[-2.1,37.1],[-1.71,37.7],[-2.24,24.6],[-2.15,17],[-2.93,21.6],[-2.82,27.7],
  [-2.71,27.7],[-3.03,12.2],[-3.35,-5.2],[-3.21,-14.3],[-1.97,-24],[-2.39,-21.9],[-1.54,0.9],[-1.76,-5.2],[-0.93,7],[-0.77,10.9],
  [-0.43,0.3],[-0.36,-13.1],[-0.02,41.3],[0.23,62.6],[0.29,37.1],[0.48,34],[0.67,58.1],[0.69,59],[1.01,59.3],[1.22,57.8],[1.1,52],
  [1.1,45.9],[1.12,38.3],[1.15,35.9],[0.9,32.8],[0.23,21.6],[-0.09,7],[0.27,-27.1],[0.45,-42.2],[0.8,-27.4],[1.38,-23.4],[1.76,-23.4],
  [2.0,13.7],[2.07,3],[2.0,-7.3],[2.96,-13.4],[3.65,10.3],[5.51,-16.4],[8.86,-5.8],[9.07,-8.8],[1.54,23.7],[0.94,25.8],[1.49,17.6],
  [-3.1,5],[-3.0,-3],[-2.95,8],[-2.9,-10],[-2.85,2],[-2.8,-15],[-2.75,12],[-2.7,-5],[-2.65,6],[-2.6,-18],[-2.55,0],[-2.5,10],
  [-2.45,-8],[-2.4,4],[-2.35,-13],[-2.3,14],[-2.25,-2],[-2.2,8],[-2.15,-16],[-2.1,2],[-2.05,-6],[-2.0,11],[-1.95,-11],[-1.9,5],
  [-1.85,-3],[-1.8,-19],[-1.75,8],[-1.7,-8],[-1.65,1],[-1.6,-14],
  [-3.05,1],[-2.95,-7],[-2.85,-12],[-2.75,-1],[-2.65,-9],[-2.55,-14],[-2.45,3],[-2.35,-5],[-2.25,9],[-2.15,-10],[-2.05,-19],
  [-1.95,3],[-1.85,-13],[-1.75,-4],[-2.6,15],[-2.4,-20],[-2.2,-21],[-2.9,14],[-2.7,-20],[-2.0,-15],[-1.7,6],
  [-3.05,-6],[-3.0,8],[-2.95,-12],[-2.9,3],[-2.85,-18],[-2.8,9],[-2.75,-8],[-2.7,0],[-2.65,-15],[-2.6,11],[-2.55,-5],[-2.5,4],
  [-2.45,-17],[-2.4,13],[-2.35,-2],[-2.3,-9],[-2.25,5],[-2.2,-14],[-2.15,10],[-2.1,-3],[-2.05,-21],[-2.0,6],[-1.95,-7],[-1.9,-17],
  [-1.85,2],[-1.8,-10],[-1.75,0],[-1.7,-15],[-1.65,9],[-1.6,-5],
  [-3.0,-16],[-2.8,-3],[-2.6,-10],[-2.4,-4],[-2.2,0],[-2.0,-1],[-1.8,12],[-2.5,-22],[-2.3,-19],[-2.7,15],[-2.1,14],[-1.9,-22],
  [-2.97,-3],[-2.88,-7],[-2.78,5],[-2.72,-12],[-2.63,-2],[-2.57,8],[-2.52,-11],[-2.43,-6],[-2.37,2],[-2.32,-14],[-2.27,-7],
  [-2.18,5],[-2.12,-11],[-2.07,-2],[-1.98,-5],[-1.93,-12],[-1.88,7],[-1.82,-6],[-1.78,3],[-1.72,-2],
  [-2.92,-15],[-2.68,-17],[-2.48,-15],[-2.28,-17],[-2.08,-14],[-2.82,11],[-2.58,-7],[-2.38,9],[-2.18,-5],[-1.98,8],
  [0.0,5],[0.1,-5],[0.15,12],[0.2,-15],[0.25,0],[0.3,-22],[0.35,8],[0.4,-10],[0.45,16],[0.5,-3],[0.55,-19],[0.6,4],[0.65,-8],
  [0.7,12],[0.75,-14],[0.8,1],[0.85,-24],[0.9,7],[0.95,-5],[1.0,14],[1.05,-12],[1.1,-1],[1.15,-20],[1.2,9],[1.25,-7],[1.3,3],
  [1.35,-16],[1.4,11],[1.45,-3],[1.5,-22],[1.55,5],[1.6,-10],[1.65,13],[1.7,-1],[1.75,-18],[1.8,6],[1.85,-6],[1.9,-13],[1.95,2],
  [0.05,-12],[0.15,-1],[0.25,-18],[0.35,-6],[0.45,2],[0.55,-13],[0.65,-24],[0.75,6],[0.85,-9],[0.95,-17],[1.05,3],[1.15,-6],
  [1.25,-25],[1.35,-1],[1.45,-12],[1.55,-19],[1.65,1],[1.75,-9],[1.85,-22],[0.3,18],[0.6,20],[0.9,18],[1.2,19],[1.5,17],
  [0.4,-26],[1.0,-26],[1.6,-25],[0.2,6],[0.5,10],[0.8,-18],[1.1,8],[1.4,-8],[1.7,9],[0.7,-3],[1.3,-11],
  [0.05,0],[0.1,8],[0.15,-9],[0.2,-25],[0.25,13],[0.3,-6],[0.35,-16],[0.4,3],[0.45,-21],[0.5,9],[0.55,-7],[0.6,-16],[0.65,15],
  [0.7,-20],[0.75,-2],[0.8,9],[0.85,-13],[0.9,-1],[0.95,-23],[1.0,5],[1.05,-18],[1.1,12],[1.15,-9],[1.2,-1],[1.25,-19],[1.3,10],
  [1.35,-6],[1.4,-22],[1.45,4],[1.5,-14],[1.55,-2],[1.6,9],[1.65,-18],[1.7,-6],[1.75,5],[1.8,-12],[1.85,1],[1.9,-20],[1.95,-4],
  [0.1,-19],[0.3,5],[0.5,-25],[0.7,3],[0.9,-14],[1.1,-27],[1.3,-1],[1.5,-8],[1.7,-25],[1.9,8],[0.4,14],[0.8,17],[1.2,15],[1.6,16],
  [0.6,-11],[1.0,-9],[1.4,-17],[0.2,-3],[1.8,-3],
  [0.22,-12],[0.28,9],[0.33,-3],[0.38,-18],[0.42,6],[0.47,-11],[0.52,0],[0.57,-22],[0.62,10],[0.67,-5],[0.72,-15],[0.77,4],
  [0.82,-9],[0.87,13],[0.92,-19],[0.97,-2],[1.02,-11],[1.07,9],[1.12,-16],[1.17,2],[1.22,-4],[1.27,12],[1.32,-21],[1.37,6],
  [1.42,-11],[1.47,-1],[1.52,-17],[1.57,8],[1.62,-6],[1.67,-21],[1.72,2],[1.77,-14],
  [0.25,-8],[0.35,2],[0.45,-15],[0.55,7],[0.65,-1],[0.75,-23],[0.85,3],[0.95,-8],[1.05,-21],[1.15,5],[1.25,-13],[1.35,-9],
  [1.45,-25],[1.55,-9],[1.65,-12],[1.75,-3],[0.3,-13],[0.6,-26],[0.9,-18],[1.2,-24],[1.5,11],[1.8,-7]
];
var pegFemalesSmooth = [[-3.35,-5.2],[-3.2,-5.0],[-3.1,-3.0],[-3.05,-0.5],[-3.0,-3.0],[-2.95,1.0],[-2.9,-2.0],[-2.85,2.0],[-2.8,-1.5],
  [-2.75,3.0],[-2.7,-1.0],[-2.65,2.5],[-2.6,-2.0],[-2.55,1.5],[-2.5,-2.5],[-2.45,2.0],[-2.4,-1.5],[-2.35,3.0],[-2.3,-1.0],
  [-2.25,2.5],[-2.2,-2.5],[-2.15,2.0],[-2.1,-3.0],[-2.05,4.0],[-2.0,1.0],[-1.95,6.0],[-1.9,0.5],[-1.85,4.5],[-1.8,-1.5],
  [-1.75,2.0],[-1.7,-2.0],[-1.65,1.0],[-1.6,-1.0],[-0.43,0.3],[-0.07,14.6],[0.05,10.0],[0.1,12.0],[0.15,7.0],[0.2,10.0],
  [0.25,3.0],[0.3,7.0],[0.35,-1.0],[0.4,5.0],[0.45,-3.0],[0.5,5.5],[0.55,-4.0],[0.6,6.0],[0.65,-3.0],[0.7,5.0],[0.75,-2.0],
  [0.8,6.0],[0.85,-4.0],[0.9,5.0],[0.95,-2.0],[1.0,7.0],[1.05,0.0],[1.1,8.0],[1.15,1.0],[1.2,6.0],[1.25,-2.0],[1.3,4.0],
  [1.35,-4.0],[1.4,3.0],[1.45,-5.0],[1.5,1.0],[1.55,-4.0],[1.6,0.0],[1.65,-3.0],[1.7,-0.5],[1.8,-3.0],[1.9,-1.5],[1.97,-2.1],
  [9.07,-8.8]];

var pegMales = [
  [1.27,126.4],[-2.18,85.7],[-2.79,64.4],[-2.79,48],[-2.21,47.1],[-3.62,19.1],[-1.97,38],[-1.54,36.8],[-1.05,43.5],[-3.05,26.1],
  [-2.77,29.8],[-2.45,30.7],[-2.07,28.9],[-3.24,-21],[-2.61,-22.5],[-1.76,-21],[-1.52,-16.7],[-0.95,-21.9],[-0.02,53.2],[0.39,61.1],
  [0.59,62],[0.83,55],[0.99,52],[1.12,44],[1.17,44],[0.18,38.9],[0.53,37.4],[0.59,32.8],[0.96,41.9],[1.1,30.7],[1.38,32.8],
  [1.44,29.8],[1.86,30.7],[0.72,48.6],[0.3,-27],[0.51,-31],[1.3,-33],[-0.16,-21.9],[-0.27,-12.2],[2.05,-11.2],[2.5,-12.8],[2.48,7],
  [2.55,7],[2.52,-8.2],[3.16,-6.1],[3.26,5.5],[3.49,2.4],[4.02,15.2],[4.5,7.6],[3.99,0],[4.95,-12.8],[6.01,-4.3],[7.9,-21],
  [7.9,-0.6],[8.3,4.6],[8.67,22.2],[-0.41,-3.6],[-1.33,-1.5],[-1.38,2.4],
  [-3.0,5],[-2.95,-8],[-2.9,12],[-2.85,-2],[-2.8,18],[-2.75,-14],[-2.7,3],[-2.65,9],[-2.6,-6],[-2.55,15],[-2.5,-18],[-2.45,0],
  [-2.4,7],[-2.35,-11],[-2.3,13],[-2.25,-4],[-2.2,20],[-2.15,-16],[-2.1,4],[-2.05,10],[-2.0,-9],[-1.95,-1],[-1.9,16],[-1.85,-13],
  [-1.8,6],[-1.75,-5],[-1.7,12],[-1.65,-18],[-1.6,2],[-1.55,-9],
  [-3.1,-12],[-2.9,-17],[-2.7,-20],[-2.6,1],[-2.4,-19],[-2.2,-8],[-2.0,-20],[-1.8,-15],[-1.7,-2],[-2.9,8],[-2.5,22],[-2.3,-1],
  [-1.9,9],[-1.6,10],
  [-2.95,0],[-2.9,-13],[-2.85,7],[-2.8,-5],[-2.75,14],[-2.7,-10],[-2.65,-1],[-2.6,-16],[-2.55,6],[-2.5,-9],[-2.45,12],[-2.4,-3],
  [-2.35,-16],[-2.3,5],[-2.25,-12],[-2.2,10],[-2.15,-2],[-2.1,-18],[-2.05,-5],[-2.0,2],[-1.95,-14],[-1.9,4],[-1.85,-7],[-1.8,-19],
  [-1.75,9],[-1.7,-11],[-1.65,0],[-1.6,-13],[-2.6,18],[-2.3,16],[-2.0,14],[-1.7,16],
  [-2.97,-4],[-2.88,3],[-2.78,-9],[-2.72,8],[-2.63,-12],[-2.57,2],[-2.48,-14],[-2.42,4],[-2.37,-7],[-2.27,9],[-2.18,-13],
  [-2.12,-1],[-2.02,-11],[-1.97,7],[-1.88,-10],[-1.82,1],[-1.72,-8],[-1.67,6],[-2.52,11],[-2.32,-19],[-2.08,-15],[-1.78,-13],
  [-2.82,-15],[-2.62,-17],[-2.22,3],
  [0.0,5],[0.1,-8],[0.15,14],[0.2,-17],[0.25,2],[0.3,-24],[0.35,10],[0.4,-5],[0.45,19],[0.5,-13],[0.55,0],[0.6,-20],[0.65,8],
  [0.7,-9],[0.75,15],[0.8,-2],[0.85,-26],[0.9,6],[0.95,-14],[1.0,12],[1.05,-6],[1.1,-21],[1.15,3],[1.2,-11],[1.25,17],[1.3,-3],
  [1.35,-18],[1.4,9],[1.45,-8],[1.5,1],[1.55,-23],[1.6,12],[1.65,-13],[1.7,4],[1.75,-6],[1.8,-17],[1.85,9],[1.9,-2],
  [0.05,-14],[0.2,7],[0.35,-11],[0.5,5],[0.65,-16],[0.8,11],[0.95,-22],[1.1,-1],[1.25,-15],[1.4,-27],[1.55,4],[1.7,-20],[1.85,-10],
  [0.4,22],[0.7,24],[1.0,20],[1.3,23],[1.6,19],[0.6,-28],[1.2,-29],[0.3,-2],[0.9,-10],[1.45,14],[1.0,0],[0.7,-4],
  [0.05,1],[0.1,-19],[0.15,-3],[0.2,12],[0.25,-12],[0.3,4],[0.35,-20],[0.4,8],[0.45,-9],[0.5,-23],[0.55,13],[0.6,-4],[0.65,-13],
  [0.7,1],[0.75,-19],[0.8,6],[0.85,-9],[0.9,-29],[0.95,-3],[1.0,-17],[1.05,7],[1.1,-12],[1.15,-25],[1.2,2],[1.25,-7],[1.3,10],
  [1.35,-12],[1.4,1],[1.45,-21],[1.5,-5],[1.55,-14],[1.6,-1],[1.65,6],[1.7,-9],[1.75,-24],[1.8,2],[1.85,-13],[1.9,-7],[0.3,16],
  [0.6,15],[0.9,14],[1.2,11],[1.5,15],[1.8,14],
  [0.12,-6],[0.18,3],[0.23,-15],[0.28,-7],[0.33,6],[0.38,-13],[0.43,-1],[0.48,-18],[0.53,-7],[0.58,9],[0.63,-24],[0.68,-11],
  [0.73,4],[0.78,-14],[0.83,-5],[0.88,10],[0.93,-18],[0.98,-7],[1.03,-24],[1.08,-3],[1.13,-14],[1.18,8],[1.23,-19],[1.28,-9],
  [1.33,5],[1.38,-15],[1.43,-4],[1.48,-11],[1.53,7],[1.58,-19],[1.63,-8],[1.68,0],[1.73,-15],[1.78,-3],
  [0.2,-10],[0.4,-22],[0.6,-16],[0.8,-22],[1.0,-4],[1.2,-16],[1.4,-20],[1.6,-5],[0.5,-9],[0.9,-1],[1.3,-8],[0.7,-26],[1.1,-8],
  [1.5,-12],[0.3,-17],[1.7,-12]
];
var pegMalesSmooth = [[-3.62,-6.7],[-3.5,-5.0],[-3.4,-3.6],[-3.3,-2.5],[-3.24,-2.1],[-3.15,1.0],[-3.1,-1.0],[-3.05,3.0],[-3.0,0.0],
  [-2.95,7.0],[-2.9,2.0],[-2.85,6.0],[-2.8,0.5],[-2.75,5.0],[-2.7,-0.5],[-2.65,5.5],[-2.6,0.5],[-2.55,6.0],[-2.5,1.0],[-2.45,6.5],
  [-2.4,0.5],[-2.35,6.0],[-2.3,0.0],[-2.25,5.0],[-2.2,-1.0],[-2.15,4.0],[-2.1,0.0],[-2.05,6.0],[-2.0,1.0],[-1.95,5.0],[-1.9,0.5],
  [-1.85,6.0],[-1.8,1.0],[-1.75,5.5],[-1.7,2.0],[-1.6,5.0],[-1.54,4.0],[-1.33,6.1],[-0.16,2.4],[0.0,2.0],[0.05,-1.0],[0.1,-3.0],
  [0.15,1.0],[0.2,-4.0],[0.25,1.5],[0.3,-5.5],[0.35,0.5],[0.4,-5.0],[0.45,1.0],[0.5,-4.5],[0.55,2.0],[0.6,-4.0],[0.65,-6.0],
  [0.7,0.0],[0.75,-4.0],[0.8,2.0],[0.85,-3.0],[0.9,6.0],[0.95,0.0],[1.0,7.0],[1.05,1.0],[1.1,7.5],[1.15,2.0],[1.2,6.0],
  [1.25,-2.0],[1.3,-4.5],[1.35,-1.0],[1.4,2.5],[1.45,-2.0],[1.5,1.5],[1.55,-1.5],[1.6,2.0],[1.7,0.0],[1.8,1.5],[1.97,0.9],
  [3.46,1.8],[7.93,0],[8.67,-0.6]];

// ---- panel table built from the arrays above ----
var panels = [
  { row: 0, col: 0, pts: cmsFemales, smooth: cmsFemalesSmooth },
  { row: 0, col: 1, pts: cmsMales,   smooth: cmsMalesSmooth, marker: maleMarkers[0], legend: [1019, 362] },
  { row: 1, col: 0, pts: wjFemales,  smooth: wjFemalesSmooth },
  { row: 1, col: 1, pts: wjMales,    smooth: wjMalesSmooth, marker: maleMarkers[1], legend: [1018, 844] },
  { row: 2, col: 0, pts: pegFemales, smooth: pegFemalesSmooth },
  { row: 2, col: 1, pts: pegMales,   smooth: pegMalesSmooth, marker: maleMarkers[2], legend: [1022, 1197] }
];

var cols = [[119.3, 549], [673.3, 1103]];
var rows = [[103.3, 401], [585.3, 883], [1067.3, 1365]];
var orange = "#FF7F00";
var plainNum = function(d) { return String(d); }; // hyphen minus like R

var svg = d3.select("svg");
svg.append("rect").attr("width", 1178).attr("height", 1488).attr("fill", "#fff");
svg.append("line").attr("x1", 1).attr("x2", 1).attr("y1", 0).attr("y2", 1488)
    .attr("stroke", "#000").attr("stroke-width", 2);

// row titles + column titles
rows.forEach(function(r, i) {
    svg.append("text")
        .attr("x", 630).attr("y", r[0] - 41)
        .attr("text-anchor", "middle")
        .style("font-size", "29.8px")
        .text(rowTitles[i]);
    cols.forEach(function(c, j) {
        svg.append("text")
            .attr("x", (c[0] + c[1]) / 2).attr("y", r[0] - 9)
            .attr("text-anchor", "middle")
            .style("font-size", "29.8px")
            .text(colTitles[j]);
    });
});

panels.forEach(function(p, i) {
    var left = cols[p.col][0], right = cols[p.col][1];
    var top = rows[p.row][0], bottom = rows[p.row][1];

    var x = d3.scaleLinear().domain(xDomains[p.row]).range([left, right]);
    var y = d3.scaleLinear().domain(yDomains[p.row]).range([bottom, top]);

    var clipId = "clip" + i;
    svg.append("clipPath").attr("id", clipId)
        .append("rect").attr("x", left).attr("y", top)
        .attr("width", right - left).attr("height", bottom - top);

    var g = svg.append("g");
    var plot = g.append("g").attr("clip-path", "url(#" + clipId + ")");

    // horizontal line at 0
    plot.append("line")
        .attr("x1", left).attr("x2", right)
        .attr("y1", y(0)).attr("y2", y(0))
        .attr("stroke", "#000").attr("stroke-width", 1.2)
        .attr("stroke-dasharray", "1.5,4");

    plot.selectAll("circle.pt")
        .data(p.pts)
        .enter().append("circle")
        .attr("class", "pt")
        .attr("cx", function(d) { return x(d[0]); })
        .attr("cy", function(d) { return y(d[1]); })
        .attr("r", 4.7)
        .attr("fill", "none")
        .attr("stroke", "#000")
        .attr("stroke-width", 1.25);

    // regression line across the plot
    var xd = x.domain();
    var a = regIntercepts[i], b = regSlopes[i];
    plot.append("line")
        .attr("x1", x(xd[0])).attr("y1", y(a + b * xd[0]))
        .attr("x2", x(xd[1])).attr("y2", y(a + b * xd[1]))
        .attr("stroke", "#000").attr("stroke-width", 1.2);

    // scatterplot smoother
    var line = d3.line()
        .x(function(d) { return x(d[0]); })
        .y(function(d) { return y(d[1]); });
    plot.append("path")
        .datum(p.smooth)
        .attr("d", line)
        .attr("fill", "none")
        .attr("stroke", orange)
        .attr("stroke-width", 5.5)
        .attr("stroke-linejoin", "round")
        .attr("stroke-dasharray", "15,4,3,4");

    if (p.marker) {
        plot.append("path")
            .attr("d", d3.symbol().type(d3.symbolSquare).size(245))
            .attr("transform", "translate(" + x(p.marker[0]) + "," + y(p.marker[1]) + ") rotate(45)")
            .attr("fill", "#007F00");
    }

    // box
    g.append("rect")
        .attr("x", left).attr("y", top)
        .attr("width", right - left).attr("height", bottom - top)
        .attr("fill", "none").attr("stroke", "#000").attr("stroke-width", 1.2);

    // axes
    var xAxis = d3.axisBottom(x).tickValues(xTicks[p.row]).tickFormat(plainNum).tickSize(7).tickSizeOuter(0);
    var xg = g.append("g").attr("transform", "translate(0," + bottom + ")").call(xAxis);
    xg.select(".domain").remove();
    xg.selectAll("line").attr("stroke", "#000");
    xg.selectAll("text")
        .attr("y", 40).attr("dy", 0)
        .attr("fill", "#000")
        .style("font-size", "18px")
        .style("font-family", "Liberation Sans, Arial, sans-serif");

    var yAxis = d3.axisLeft(y).tickValues(yTicks[p.row]).tickFormat(plainNum).tickSize(7).tickSizeOuter(0);
    var yg = g.append("g").attr("transform", "translate(" + left + ",0)").call(yAxis);
    yg.select(".domain").remove();
    yg.selectAll("line").attr("stroke", "#000");
    yg.selectAll("text")
        .attr("x", 0).attr("dy", 0)
        .attr("transform", "translate(-20,0) rotate(-90)")
        .attr("text-anchor", "middle")
        .attr("fill", "#000")
        .style("font-size", "18px")
        .style("font-family", "Liberation Sans, Arial, sans-serif");

    // x label
    svg.append("text")
        .attr("x", (left + right) / 2).attr("y", bottom + 76)
        .attr("text-anchor", "middle")
        .style("font-size", "15px")
        .text(xLabel);

    // y label on female panels
    if (p.col === 0) {
        svg.append("text")
            .attr("transform", "translate(59," + ((top + bottom) / 2) + ") rotate(-90)")
            .attr("text-anchor", "middle")
            .style("font-size", "19.5px")
            .text(yLabel);
    }

    if (p.legend) {
        var lx = p.legend[0], ly = p.legend[1];
        var lg = svg.append("g");
        legendLabels.forEach(function(t, k) {
            lg.append("text")
                .attr("x", lx).attr("y", ly + k * 12 + 4.3)
                .attr("text-anchor", "end")
                .style("font-size", "12px")
                .text(t);
        });
        lg.append("line").attr("x1", lx + 24).attr("x2", lx + 62)
            .attr("y1", ly - 1.5).attr("y2", ly - 1.5)
            .attr("stroke", "#000").attr("stroke-width", 1.2);
        lg.append("line").attr("x1", lx + 25).attr("x2", lx + 61)
            .attr("y1", ly + 10).attr("y2", ly + 10)
            .attr("stroke", orange).attr("stroke-width", 6).attr("stroke-linecap", "round");
        lg.append("line").attr("x1", lx + 24).attr("x2", lx + 62)
            .attr("y1", ly + 22).attr("y2", ly + 22)
            .attr("stroke", "#000").attr("stroke-width", 1.2)
            .attr("stroke-dasharray", "1.5,8");
    }
});
</script>
</body>
</html>
